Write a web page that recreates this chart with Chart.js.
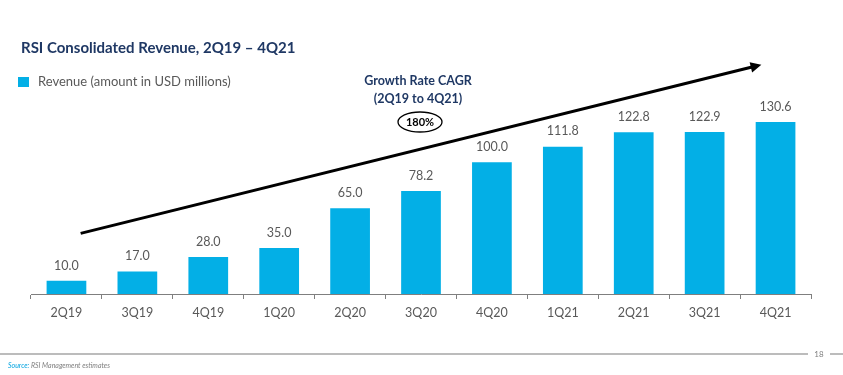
<!DOCTYPE html>
<html>
<head>
<meta charset="utf-8">
<script src="https://cdn.jsdelivr.net/npm/chart.js@4/dist/chart.umd.min.js"></script>
<style>
html,body{margin:0;padding:0;background:#fff;}
#wrap{position:relative;width:843px;height:375px;}
canvas{display:block;}
</style>
</head>
<body>
<div id="wrap"><canvas id="c" width="843" height="375"></canvas></div>
<script>
const categories = ['2Q19','3Q19','4Q19','1Q20','2Q20','3Q20','4Q20','1Q21','2Q21','3Q21','4Q21'];
const revenue = [10.0, 17.0, 28.0, 35.0, 65.0, 78.2, 100.0, 111.8, 122.8, 122.9, 130.6];
const titleText = 'RSI Consolidated Revenue, 2Q19 \u2013 4Q21';
const legendText = 'Revenue (amount in USD millions)';
const cagrTitle = ['Growth Rate CAGR', '(2Q19 to 4Q21)'];
const cagrValue = '180%';
const sourceLabel = 'Source:';
const sourceText = ' RSI Management estimates';
const pageNumber = '18';
// arrow endpoints in data space [category index, value]
const arrowStart = [0.2, 46];
const arrowEnd = [9.8, 174];

const BAR = '#03AFE6';
const NAVY = '#1F3864';
const GRAY = '#595959';
const FONT = 'Lato, "Open Sans", sans-serif';

const decor = {
  id: 'decor',
  afterDatasetsDraw(chart) {
    const ctx = chart.ctx;
    const xs = chart.scales.x, ys = chart.scales.y;
    const meta = chart.getDatasetMeta(0);
    ctx.save();
    ctx.fillStyle = GRAY;
    ctx.font = '12.5px ' + FONT;
    ctx.textAlign = 'center';
    ctx.textBaseline = 'bottom';
    meta.data.forEach((bar, i) => {
      ctx.fillText(revenue[i].toFixed(1), bar.x, bar.y - 9);
    });
    const x1 = xs.getPixelForValue(arrowStart[0]), y1 = ys.getPixelForValue(arrowStart[1]);
    const x2 = xs.getPixelForValue(arrowEnd[0]), y2 = ys.getPixelForValue(arrowEnd[1]);
    const ang = Math.atan2(y2 - y1, x2 - x1);
    const head = 12;
    ctx.strokeStyle = '#000';
    ctx.fillStyle = '#000';
    ctx.lineWidth = 3;
    ctx.beginPath();
    ctx.moveTo(x1, y1);
    ctx.lineTo(x2 - Math.cos(ang) * head * 0.8, y2 - Math.sin(ang) * head * 0.8);
    ctx.stroke();
    ctx.beginPath();
    ctx.moveTo(x2, y2);
    ctx.lineTo(x2 - head * Math.cos(ang - 0.45), y2 - head * Math.sin(ang - 0.45));
    ctx.lineTo(x2 - head * Math.cos(ang + 0.45), y2 - head * Math.sin(ang + 0.45));
    ctx.closePath();
    ctx.fill();
    ctx.restore();
  },
  afterDraw(chart) {
    const ctx = chart.ctx;
    ctx.save();
    ctx.fillStyle = NAVY;
    ctx.font = 'bold 15px ' + FONT;
    ctx.textAlign = 'left';
    ctx.textBaseline = 'middle';
    ctx.fillText(titleText, 21, 48);
    ctx.fillStyle = BAR;
    ctx.fillRect(18, 77, 11, 10);
    ctx.fillStyle = GRAY;
    ctx.font = '13px ' + FONT;
    ctx.fillText(legendText, 38, 82);
    ctx.fillStyle = NAVY;
    ctx.font = 'bold 12.5px ' + FONT;
    ctx.textAlign = 'center';
    ctx.fillText(cagrTitle[0], 418, 81);
    ctx.fillText(cagrTitle[1], 418, 99);
    ctx.strokeStyle = '#000';
    ctx.lineWidth = 1.3;
    ctx.beginPath();
    ctx.ellipse(420, 122, 22, 10, 0, 0, Math.PI * 2);
    ctx.stroke();
    ctx.fillStyle = '#000';
    ctx.font = 'bold 11px ' + FONT;
    ctx.fillText(cagrValue, 420, 122.5);
    ctx.strokeStyle = '#A6A6A6';
    ctx.lineWidth = 1.5;
    ctx.beginPath();
    ctx.moveTo(0, 354); ctx.lineTo(808, 354);
    ctx.moveTo(830, 354); ctx.lineTo(843, 354);
    ctx.stroke();
    ctx.fillStyle = '#7F7F7F';
    ctx.font = '8px ' + FONT;
    ctx.fillText(pageNumber, 819, 354);
    ctx.textAlign = 'left';
    ctx.font = 'italic 7px ' + FONT;
    ctx.fillStyle = '#00A3E0';
    ctx.fillText(sourceLabel, 8, 366);
    const w = ctx.measureText(sourceLabel).width;
    ctx.fillStyle = '#7F7F7F';
    ctx.fillText(sourceText, 8 + w, 366);
    ctx.restore();
  }
};

new Chart(document.getElementById('c'), {
  type: 'bar',
  data: {
    labels: categories,
    datasets: [{
      label: legendText,
      data: revenue,
      backgroundColor: BAR,
      borderWidth: 0,
      categoryPercentage: 1.0,
      barPercentage: 0.56
    }]
  },
  options: {
    responsive: false,
    animation: false,
    devicePixelRatio: 1,
    layout: { padding: { left: 31, right: 32, top: 99, bottom: 49 } },
    plugins: { legend: { display: false }, tooltip: { enabled: false }, title: { display: false } },
    scales: {
      x: {
        offset: true,
        grid: { offset: true, drawOnChartArea: false, drawTicks: true, tickLength: 5, color: '#7F7F7F', lineWidth: 1 },
        border: { display: true, color: '#7F7F7F', width: 1 },
        ticks: { color: GRAY, font: { family: FONT, size: 12.5 }, padding: 6, maxRotation: 0 }
      },
      y: {
        display: false,
        min: 0,
        max: 148
      }
    }
  },
  plugins: [decor]
});
</script>
</body>
</html>
